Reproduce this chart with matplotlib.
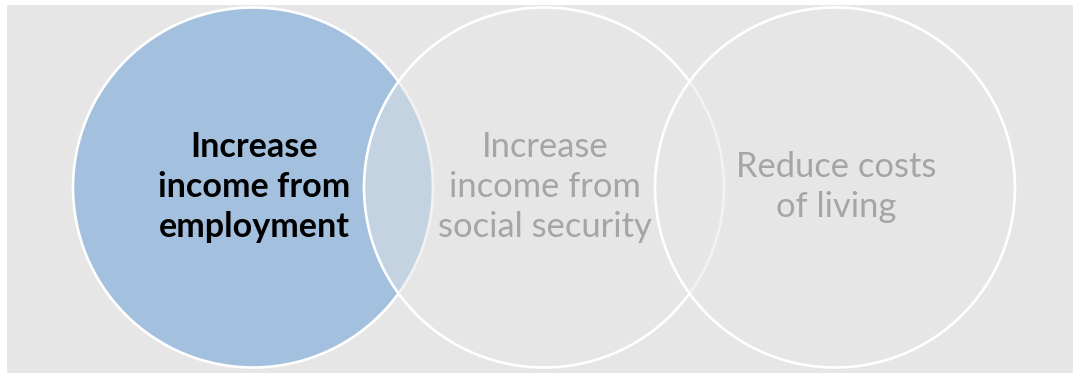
import matplotlib
matplotlib.use("Agg")
import matplotlib.pyplot as plt
from matplotlib.patches import Circle, Rectangle

# text of the three circles, one entry per line
labels = [
    ["Increase", "income from", "employment"],
    ["Increase", "income from", "social security"],
    ["Reduce costs", "of living"],
]
highlight = [True, False, False]   # first circle is the active one

W, H = 1073, 373
fig = plt.figure(figsize=(W / 100, H / 100), dpi=100)
ax = fig.add_axes([0, 0, 1, 1])
ax.set_xlim(0, W)
ax.set_ylim(H, 0)
ax.set_aspect("equal")
ax.axis("off")

plt.rcParams['font.family'] = ['Lato', 'DejaVu Sans']

# grey panel
ax.add_patch(Rectangle((7, 5), W - 7, H - 5, facecolor="#e6e6e6", edgecolor="none", zorder=0))

x0, step, cy, r = 253, 291, 187.5, 180
line_h = 40

for i, lines in enumerate(labels):
    cx = x0 + i * step
    if highlight[i]:
        face = "#a3c0de"
    else:
        face = (0.902, 0.902, 0.902, 0.5)
    ax.add_patch(Circle((cx, cy), r, facecolor=face, edgecolor="white", lw=1.9, zorder=1 + i))

    n = len(lines)
    # baselines: middle of the block sits near the circle centre
    first = cy + 8.5 - (n - 1) * line_h / 2
    for k, txt in enumerate(lines):
        ax.text(cx + 1, first + k * line_h + 1, txt, ha="center", va="baseline",
                fontsize=24.6 if highlight[i] else 24.8,
                fontweight="bold" if highlight[i] else "normal",
                color="black" if highlight[i] else "#a6a5a5", zorder=10)

fig.savefig("out.png", dpi=100)
